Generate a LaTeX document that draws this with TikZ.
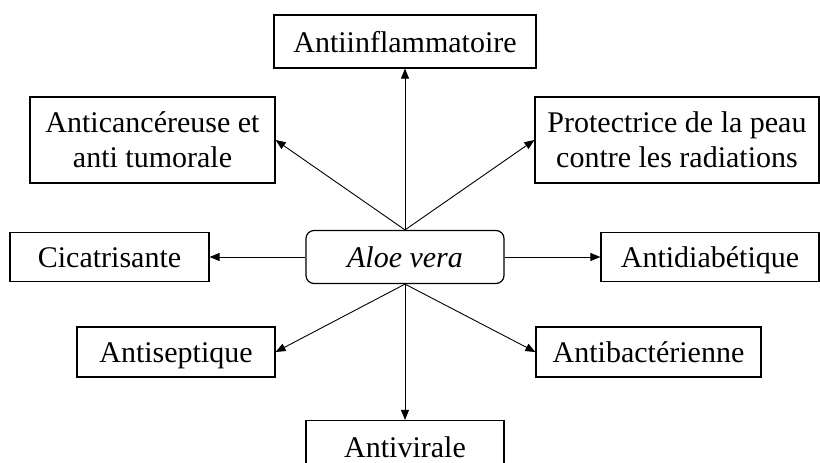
\documentclass[tikz,border=0pt]{standalone}
\usepackage{fontspec}
\setmainfont{Liberation Serif}
\usetikzlibrary{arrows.meta}
\begin{document}
\begin{tikzpicture}[x=1pt,y=-1pt,
  box/.style={draw, line width=1.2pt, inner sep=0pt, align=center,
    font=\fontsize{30}{35}\selectfont},
  one/.style={box, text height=27pt, text depth=6pt},
  center/.style={one, rounded corners=8pt},
  link/.style={line width=0.9pt, -{Triangle[length=10pt,width=8pt]}}]
\useasboundingbox (0,0) rectangle (820,463);
\node[center, minimum width=198pt, minimum height=53pt] (aloe) at (405,257) {\textit{Aloe vera}};
\node[one, minimum width=262pt, minimum height=53pt] (infl) at (405,41.5) {Antiinflammatoire};
\node[box, minimum width=245pt, minimum height=86pt] (cancer) at (152.5,140) {Anticancéreuse et\\anti tumorale};
\node[box, minimum width=284pt, minimum height=86pt] (protect) at (677,140) {Protectrice de la peau\\contre les radiations};
\node[one, minimum width=199pt, minimum height=49pt] (cicat) at (109.5,257) {Cicatrisante};
\node[one, minimum width=218pt, minimum height=49pt] (diab) at (710,257) {Antidiabétique};
\node[one, minimum width=198pt, minimum height=50pt] (septic) at (176,352) {Antiseptique};
\node[one, minimum width=225pt, minimum height=50pt] (bact) at (648.5,352) {Antibactérienne};
\node[one, minimum width=198pt, minimum height=53pt] (viral) at (405,447) {Antivirale};
\draw[link] (aloe.north) -- (infl.south);
\draw[link] (aloe.north) -- (cancer.east);
\draw[link] (aloe.north) -- (protect.west);
\draw[link] (aloe.west) -- (cicat.east);
\draw[link] (aloe.east) -- (diab.west);
\draw[link] (aloe.south) -- (septic.east);
\draw[link] (aloe.south) -- (bact.west);
\draw[link] (aloe.south) -- (viral.north);
\end{tikzpicture}
\end{document}
